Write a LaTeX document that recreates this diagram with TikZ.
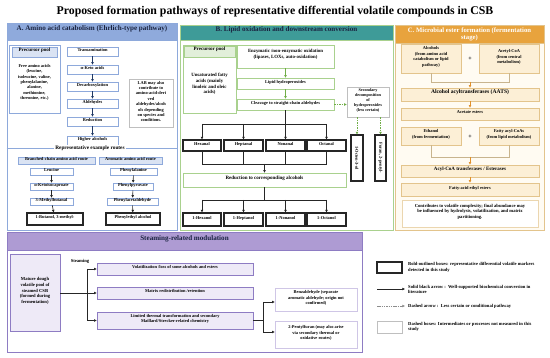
\documentclass[tikz,border=0pt]{standalone}
\usepackage{fontspec}
\setmainfont{Liberation Serif}
\usepackage{graphicx}
\usetikzlibrary{fit,arrows.meta}

\definecolor{ablue}{HTML}{8EA9DB}
\definecolor{ahead}{HTML}{8FAADC}
\definecolor{alight}{HTML}{DAE3F3}
\definecolor{navy}{HTML}{1F3864}
\definecolor{bgreen}{HTML}{A9D18E}
\definecolor{bhead}{HTML}{3E9B98}
\definecolor{blight}{HTML}{E2EFDA}
\definecolor{garrow}{HTML}{70AD47}
\definecolor{chead}{HTML}{E8A33D}
\definecolor{cborder}{HTML}{E3C48C}
\definecolor{cfill}{HTML}{FCEFD6}
\definecolor{cbg}{HTML}{FFFBF2}
\definecolor{carrow}{HTML}{E0902B}
\definecolor{cline}{HTML}{C8B48E}
\definecolor{pborder}{HTML}{8E7CC3}
\definecolor{phead}{HTML}{AE9BD3}
\definecolor{pfill}{HTML}{EEEAF7}
\definecolor{plight}{HTML}{CFC6E6}
\definecolor{htext}{HTML}{1A2340}

\newcommand\bx[7]{\node[#2, fit={(#3,#4) (#5,#6)}] (#1) {#7};}

\tikzset{
 base/.style={inner sep=0pt, align=center, font=\fontsize{4.4}{5.4}\selectfont\bfseries},
 hfont/.style={font=\fontsize{7.1}{8}\selectfont\bfseries},
 panelA/.style={base, draw=ablue, line width=0.8pt, fill=white},
 headA/.style={base, hfont, fill=ahead, draw=ablue, line width=0.8pt, text=htext},
 abox/.style={base, draw=ablue, fill=white, line width=0.6pt},
 aboxl/.style={base, draw=ablue, fill=alight, line width=0.5pt},
 dbox/.style={base, draw=black!25, fill=white, line width=0.5pt},
 boldbox/.style={base, draw=black!85, fill=white, line width=1.1pt},
 panelB/.style={base, draw=bgreen, line width=0.8pt, fill=white},
 headB/.style={base, hfont, fill=bhead, draw=bgreen, line width=0.8pt, text=htext},
 bbox/.style={base, draw=bgreen, fill=white, line width=0.6pt},
 bboxl/.style={base, draw=bgreen, fill=blight, line width=0.5pt},
 panelC/.style={base, draw=cborder, line width=0.8pt, fill=cbg},
 headC/.style={base, hfont, fill=chead, draw=cborder, line width=0.8pt, text=white},
 cbox/.style={base, draw=cborder, fill=cfill, line width=0.6pt},
 panelP/.style={base, draw=pborder, line width=0.8pt, fill=white},
 headP/.style={base, hfont, fill=phead, draw=pborder, line width=0.8pt, text=htext},
 pbox/.style={base, draw=pborder, fill=pfill, line width=0.6pt},
 plbox/.style={base, draw=plight, fill=white, line width=0.6pt},
 aarrow/.style={draw=navy, line width=0.6pt, -{Triangle[length=2.6pt,width=2.4pt]}},
 garr/.style={draw=garrow, line width=0.6pt, -{Triangle[length=2.6pt,width=2.4pt]}},
 gdash/.style={garr, dash pattern=on 1.5pt off 1pt},
 karrow/.style={draw=black!85, line width=0.6pt, -{Triangle[length=2.6pt,width=2.4pt]}},
 kline/.style={draw=black!85, line width=0.6pt},
 carr/.style={draw=carrow, line width=0.6pt, -{Triangle[length=2.6pt,width=2.4pt]}},
 cln/.style={draw=cline, line width=0.6pt},
 legtext/.style={base, align=left, anchor=west, font=\fontsize{4.6}{5.6}\selectfont\bfseries},
}

\begin{document}
\begin{tikzpicture}[x=1pt,y=-1pt]
\useasboundingbox (0,0) rectangle (550,358);

\node[font=\fontsize{11.8}{13}\selectfont\bfseries, inner sep=0pt] (title) at (275,12)
 {Proposed formation pathways of representative differential volatile compounds in CSB};

% ---------------- Panel A ----------------
\bx{pA}{panelA}{7}{23}{177}{230}{}
\bx{hA}{headA}{7}{23}{177}{40}{A. Amino acid catabolism (Ehrlich-type pathway)}
\bx{ppA}{abox}{9}{45}{60}{113}{}
\bx{ppAh}{aboxl, font=\fontsize{5}{6}\selectfont\bfseries}{12}{47}{57}{57}{Precursor pool}
\node[base] (ppAt) at (34.5,82.5) {Free amino acids\\(leucine,\\isoleucine, valine,\\phenylalanine,\\alanine,\\methionine,\\threonine, etc.)};

\bx{trA}{abox}{67}{47}{118}{56}{Transamination}
\bx{kaA}{abox}{67}{65}{118}{74}{α-Keto acids}
\bx{dcA}{abox}{67}{82}{118}{91}{Decarboxylation}
\bx{alA}{abox}{67}{99}{118}{108}{Aldehydes}
\bx{rdA}{abox}{67}{117}{118}{126}{Reduction}
\bx{haA}{abox}{67}{136}{118}{145}{Higher alcohols}
\draw[aarrow] (trA) -- (kaA);
\draw[aarrow] (kaA) -- (dcA);
\draw[aarrow] (dcA) -- (alA);
\draw[aarrow] (alA) -- (rdA);
\draw[aarrow] (rdA) -- (haA);

\bx{lab}{dbox}{129}{79}{173}{127}{LAB may also\\contribute to\\amino-acid-deri\\ved\\aldehydes/alcoh\\ols depending\\on species and\\conditions.}

\node[base, font=\fontsize{5.3}{6}\selectfont\bfseries, fill=white, inner xsep=1pt, inner ysep=0.5pt] (rep) at (90,148) {Representative example routes};
\draw[ablue, line width=0.6pt] (pA.west |- rep) -- (rep.west);
\draw[ablue, line width=0.6pt] (rep.east) -- (pA.east |- rep);

\bx{brA}{aboxl}{18}{157}{95}{164}{Branched-chain amino acid route}
\bx{arA}{aboxl}{99}{157}{162}{164}{Aromatic amino acid route}
\bx{leu}{abox}{30}{168}{73}{175}{Leucine}
\bx{kic}{abox}{30}{183}{73}{190}{α-Ketoisocaproate}
\bx{mbu}{abox}{30}{198}{73}{205}{3-Methylbutanal}
\bx{but}{boldbox}{27}{213}{83}{225}{1-Butanol, 3-methyl-}
\bx{phe}{abox}{110}{168}{157}{175}{Phenylalanine}
\bx{ppy}{abox}{113}{183}{153}{190}{Phenylpyruvate}
\bx{pac}{abox}{107}{198}{158}{205}{Phenylacetaldehyde}
\bx{pea}{boldbox}{106}{213}{160}{225}{Phenylethyl alcohol}
\draw[karrow] (leu) -- (kic);
\draw[karrow] (kic) -- (mbu);
\draw[karrow] (mbu) -- (but);
\draw[karrow] (phe) -- (ppy);
\draw[karrow] (ppy) -- (pac);
\draw[karrow] (pac) -- (pea);

% ---------------- Panel B ----------------
\bx{pB}{panelB}{180}{25}{393}{230}{}
\bx{hB}{headB}{180}{25}{393}{40}{B. Lipid oxidation and downstream conversion}
\bx{ppB}{bbox}{183}{45}{236}{113}{}
\bx{ppBh}{bboxl, font=\fontsize{5}{6}\selectfont\bfseries}{184}{46}{235}{57}{Precursor pool}
\node[base, font=\fontsize{4.8}{5.8}\selectfont\bfseries] (ppBt) at (209.5,84) {Unsaturated fatty\\acids (mainly\\linoleic and oleic\\acids)};

\bx{enz}{bbox, font=\fontsize{4.8}{6}\selectfont\bfseries}{237}{45}{334}{68}{Enzymatic /non-enzymatic oxidation\\(lipases, LOXs, auto-oxidation)}
\bx{lhp}{bbox}{237}{78}{334}{89}{Lipid hydroperoxides}
\bx{clv}{bbox}{237}{99}{334}{110}{Cleavage to straight-chain aldehydes}
\draw[garr] (enz) -- (lhp);
\draw[garr] (lhp) -- (clv);

\bx{sec}{dbox, font=\fontsize{4.2}{5.2}\selectfont\bfseries}{347}{87}{389}{117}{Secondary\\decomposition\\of\\hydroperoxides\\(less certain)}
\draw[gdash] (clv.east) -- (sec.west |- clv.east);

\bx{oct3}{boldbox}{351}{135}{363}{181}{\rotatebox{-90}{1-Octen-3-ol}}
\bx{pfu}{boldbox}{375}{135}{386}{181}{\rotatebox{-90}{Furan, 2-pentyl-}}
\draw[gdash] (sec.south -| oct3) -- (oct3.north);
\draw[gdash] (sec.south -| pfu) -- (pfu.north);

\bx{hex}{boldbox}{183}{140}{221}{151}{Hexanal}
\bx{hep}{boldbox}{224}{140}{263}{151}{Heptanal}
\bx{non}{boldbox}{266}{140}{305}{151}{Nonanal}
\bx{oca}{boldbox}{307}{140}{346}{151}{Octanal}
\coordinate (bj1) at (285,124);
\draw[kline] (clv.south) -- (clv.south |- bj1);
\draw[kline] (hex.north |- bj1) -- (oca.north |- bj1);
\draw[karrow] (hex.north |- bj1) -- (hex.north);
\draw[karrow] (hep.north |- bj1) -- (hep.north);
\draw[karrow] (non.north |- bj1) -- (non.north);
\draw[karrow] (oca.north |- bj1) -- (oca.north);

\bx{red}{bbox, font=\fontsize{5}{6}\selectfont\bfseries}{183}{173}{346}{187}{Reduction to corresponding alcohols}
\coordinate (bj2) at (264.5,164);
\draw[kline] (hex.south) -- (hex.south |- bj2) -- (oca.south |- bj2) -- (oca.south);
\draw[kline] (hep.south) -- (hep.south |- bj2);
\draw[kline] (non.south) -- (non.south |- bj2);
\draw[karrow] (red.north |- bj2) -- (red.north);

\bx{hexol}{boldbox}{183}{213}{221}{226}{1-Hexanol}
\bx{hepol}{boldbox}{224}{213}{263}{226}{1-Heptanol}
\bx{nonol}{boldbox}{266}{213}{305}{226}{1-Nonanol}
\bx{octol}{boldbox}{307}{213}{346}{226}{1-Octanol}
\coordinate (bj3) at (264.5,200);
\draw[kline] (red.south) -- (red.south |- bj3);
\draw[kline] (hexol.north |- bj3) -- (octol.north |- bj3);
\draw[karrow] (hexol.north |- bj3) -- (hexol.north);
\draw[karrow] (hepol.north |- bj3) -- (hepol.north);
\draw[karrow] (nonol.north |- bj3) -- (nonol.north);
\draw[karrow] (octol.north |- bj3) -- (octol.north);

% ---------------- Panel C ----------------
\bx{pC}{panelC}{395}{25}{544}{230}{}
\bx{hC}{headC}{395}{25}{544}{43}{}
\node[base, text=white, font=\fontsize{6.7}{7.2}\selectfont\bfseries] (hCt) at (hC.center) {C. Microbial ester formation (fermentation\\stage)};
\bx{alc}{cbox}{401}{44}{461}{73}{Alcohols\\(from amino acid\\catabolism or lipid\\pathway)}
\bx{aca}{cbox}{479}{44}{539}{73}{Acetyl-CoA\\(from central\\metabolism)}
\node[base, font=\fontsize{6}{6}\selectfont\bfseries] (plus1) at (470,58.5) {+};
\bx{aat}{cbox, font=\fontsize{5.6}{6.5}\selectfont\bfseries}{401}{88}{539}{101}{Alcohol acyltransferases (AATS)}
\bx{ace}{cbox}{401}{108}{539}{120}{Acetate esters}
\coordinate (cj1) at (470,82);
\draw[cln] (alc.south) -- (alc.south |- cj1) -- (aca.south |- cj1) -- (aca.south);
\draw[carr] (cj1) -- (aat.north -| cj1);
\draw[carr] (aat) -- (ace);

\bx{eth}{cbox}{401}{127}{461}{145}{Ethanol\\(from fermentation)}
\bx{fac}{cbox}{479}{127}{539}{145}{Fatty acyl-CoAs\\(from lipid metabolism)}
\node[base, font=\fontsize{6}{6}\selectfont\bfseries] (plus2) at (470,136.5) {+};
\bx{act}{cbox, font=\fontsize{5}{6}\selectfont\bfseries}{401}{165}{539}{177}{Acyl-CoA transferases / Esterases}
\bx{fee}{cbox}{401}{183}{539}{196}{Fatty-acid ethyl esters}
\coordinate (cj2) at (470,157);
\draw[cln] (eth.south) -- (eth.south |- cj2) -- (fac.south |- cj2) -- (fac.south);
\draw[carr] (cj2) -- (act.north -| cj2);
\draw[carr] (act) -- (fee);
\bx{con}{base, draw=cborder!70, fill=white, line width=0.5pt, font=\fontsize{4.6}{5.6}\selectfont\bfseries}{402}{200}{538}{227}{Contributes to volatile complexity; final abundance may\\be influenced by hydrolysis, volatilization, and matrix\\partitioning.}

% ---------------- Steaming panel ----------------
\bx{pP}{panelP}{7}{232}{362}{352}{}
\bx{hP}{headP}{7}{232}{362}{250}{Steaming-related modulation}
\bx{mat}{pbox, font=\fontsize{4.6}{5.6}\selectfont\bfseries}{10}{254}{60}{331}{Mature dough\\volatile pool of\\steamed CSB\\(formed during\\fermentation)}
\node[base, font=\fontsize{4.6}{5.6}\selectfont\bfseries] (stm) at (80,261) {Steaming};
\bx{vol}{pbox}{97}{263}{253}{275}{Volatilization /loss of some alcohols and esters}
\bx{mr}{pbox}{97}{287}{253}{299}{Matrix redistribution /retention}
\bx{lim}{pbox}{97}{312}{253}{329}{Limited thermal transformation and secondary\\Maillard/Strecker-related chemistry}
\draw[karrow] (mat.east |- mr) -- (mr.west);
\coordinate (sv1) at (87,269);
\coordinate (sv2) at (87,320.5);
\draw[kline] (sv1) -- (sv2);
\draw[karrow] (sv1) -- (vol.west |- sv1);
\draw[karrow] (sv2) -- (lim.west |- sv2);

\bx{benz}{plbox}{275}{288}{357}{311}{Benzaldehyde (separate\\aromatic aldehyde; origin not\\confirmed)}
\bx{pf}{plbox}{275}{321}{357}{348}{2-Pentylfuran (may also arise\\via secondary thermal or\\oxidative routes)}
\coordinate (tv) at (263,320.5);
\coordinate (tv1) at (263,302);
\coordinate (tv2) at (263,332);
\draw[kline] (lim.east) -- (tv);
\draw[kline] (tv1) -- (tv2);
\draw[karrow] (tv1) -- (benz.west |- tv1);
\draw[karrow] (tv2) -- (pf.west |- tv2);

% ---------------- Legend ----------------
\bx{lg1}{boldbox}{377}{262}{402}{273}{}
\node[legtext] (lt1) at (408,267.5) {Bold-outlined boxes: representative differential volatile markers\\detected in this study};
\coordinate (la1) at (377,289);
\coordinate (la2) at (405,289);
\draw[karrow] (la1) -- (la2);
\node[legtext] (lt2) at (408,289.5) {Solid black arrow :\ \ Well-supported biochemical conversion in\\literature};
\coordinate (lb1) at (377,306);
\coordinate (lb2) at (405,306);
\draw[draw=black!45, line width=0.5pt, -{Triangle[length=2.6pt,width=2.4pt]}, dash pattern=on 1.5pt off 0.8pt] (lb1) -- (lb2);
\node[legtext] (lt3) at (408,306) {Dashed arrow :\ \ Less certain or conditional pathway};
\bx{lg4}{dbox}{377}{321}{402}{333}{}
\node[legtext] (lt4) at (408,327) {Dashed boxes: Intermediates or processes not measured in this\\study};

\end{tikzpicture}
\end{document}
